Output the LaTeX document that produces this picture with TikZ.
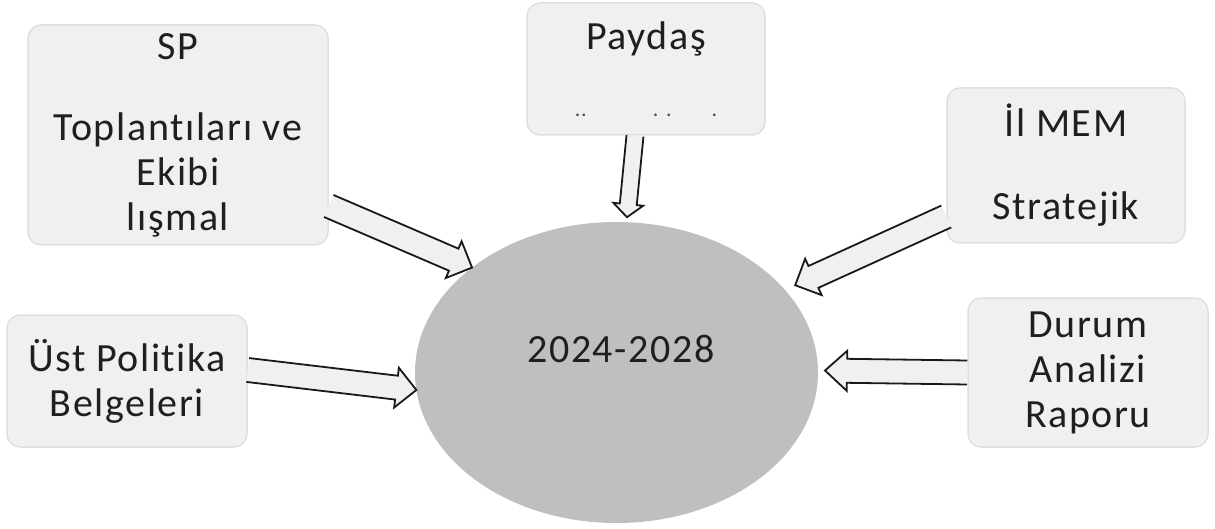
\documentclass[tikz,border=0pt]{standalone}
\usepackage{fontspec}
\setmainfont{Carlito}[LetterSpace=4, Ligatures={NoCommon,NoContextual,NoRare}]
\usetikzlibrary{calc,shapes.geometric}

\begin{document}
\begin{tikzpicture}[x=1pt, y=-1pt,
  every node/.style={font=\fontsize{40}{45}\selectfont, text=black!88},
  box/.style={draw=gray!25, line width=1.5pt, fill=gray!12,
    rounded corners=13pt, align=center, inner sep=0pt},
  blockarrow/.style n args={3}{draw=black!90, line width=1.8pt, fill=gray!12,
    to path={($(\tikztotarget)!#3!(\tikztostart)$) coordinate (hb)
      ($(\tikztostart)!#1!90:(\tikztotarget)$) -- ($(hb)!#1!-90:(\tikztostart)$)
      -- ($(hb)!#2!-90:(\tikztostart)$) -- (\tikztotarget)
      -- ($(hb)!#2!90:(\tikztostart)$) -- ($(hb)!#1!90:(\tikztostart)$)
      -- ($(\tikztostart)!#1!-90:(\tikztotarget)$)}}]
\useasboundingbox (0,0) rectangle (1215,529);
\node[box, minimum width=300pt, minimum height=220pt] (A) at (178,135)
  {SP\\[36pt]Toplantıları ve\\Ekibi\\lışmal};
\node[box, minimum width=238pt, minimum height=132pt] (B) at (646,69)
  {Paydaş\\[22pt]{\fontsize{22}{45}\selectfont\color{black!70}..\hspace{66pt}. .\hspace{40pt}.}};
\node[box, minimum width=238pt, minimum height=155pt] (C) at (1066,165.5)
  {İl MEM\\[38pt]Stratejik};
\node[box, minimum width=240pt, minimum height=132pt] (D) at (127,381)
  {Üst Politika\\Belgeleri};
\node[box, minimum width=240pt, minimum height=149pt] (F) at (1088,372.5)
  {Durum\\Analizi\\Raporu};
\node[ellipse, fill=gray!50, minimum width=403pt, minimum height=301pt,
  inner sep=0pt, outer sep=0pt] (E) at (616.5,372.5) {};
\node (G) at (621,349) {2024-2028};
\coordinate (a) at ($(A.east)+(0,71)$);
\coordinate (b) at ($(B.south)+(-11,0)$);
\coordinate (b') at ($(E.86)+(0,-5)$);
\coordinate (c) at ($(C.west)+(0,51)$);
\coordinate (c') at ($(E.26)+(10,-5)$);
\coordinate (d) at ($(D.east)+(0,-11)$);
\coordinate (f) at (F.west);
\coordinate (f') at ($(E.east)+(7,-2)$);
\draw[blockarrow={12pt}{20pt}{20pt}] (a) to (E.144);
\draw[blockarrow={8.5pt}{15pt}{13pt}] (b) to (b');
\draw[blockarrow={12pt}{20pt}{20pt}] (c) to (c');
\draw[blockarrow={12pt}{20pt}{20pt}] (d) to (E.185);
\draw[blockarrow={12pt}{20pt}{22pt}] (f) to (f');
\end{tikzpicture}
\end{document}
